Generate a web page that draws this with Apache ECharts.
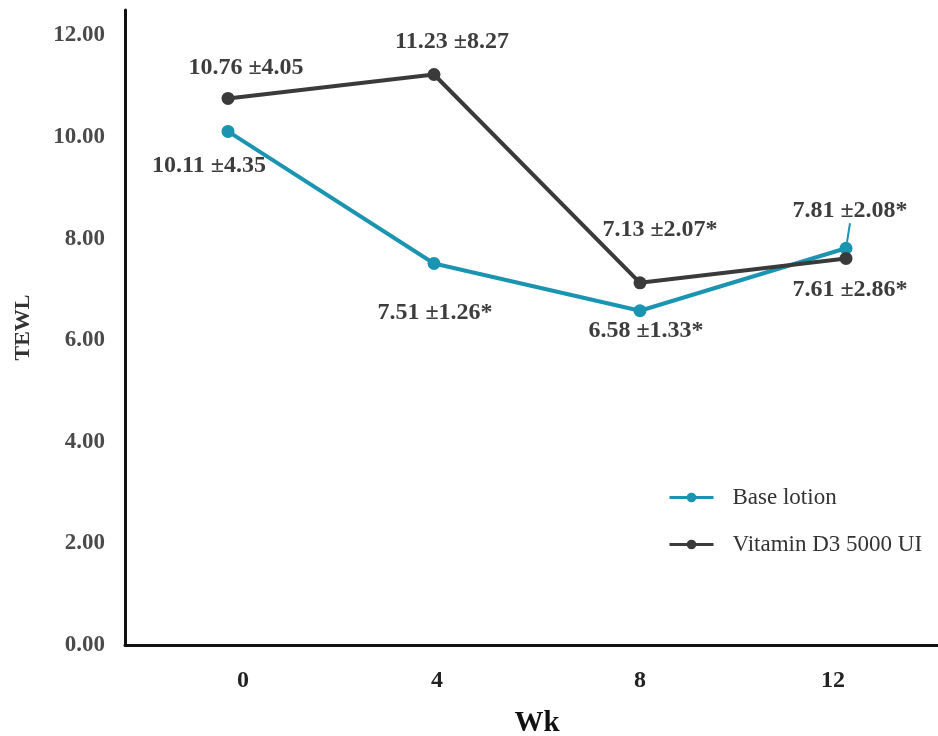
<!DOCTYPE html>
<html>
<head>
<meta charset="utf-8">
<script src="https://cdn.jsdelivr.net/npm/echarts@6/dist/echarts.min.js"></script>
<style>
  html, body { margin: 0; padding: 0; background: #fff; }
  #box { width: 938px; height: 736px; }
</style>
</head>
<body>
<div id="box"></div>
<script>
// data
const weeks = ['0', '4', '8', '12']
const baseLotion = [10.11, 7.51, 6.58, 7.81]
const baseSd = ['4.35', '1.26*', '1.33*', '2.08*']
const vitaminD3 = [10.76, 11.23, 7.13, 7.61]
const vitaminSd = ['4.05', '8.27', '2.07*', '2.86*']

// where each value label sits relative to its point
const baseLabelOffset = [[-19, 34], [1, 49], [6, 20], [4, -37]]
const vitaminLabelOffset = [[18, -31], [18, -33], [20, -53], [4, 31]]

const FONT = 'Liberation Serif'
const TEAL = '#1a94b0'
const DARK = '#3a3a3a'

function points (values, sd, leader) {
  return values.map((v, i) => {
    const item = {
      value: v,
      label: { formatter: v.toFixed(2) + ' \u00b1' + sd[i] }
    }
    if (leader === i) {
      // short guide line from the point up to its label
      item.label.padding = [0, 0, 8, 0]
      item.labelLine = { show: true }
    }
    return item
  })
}

function lineSeries (name, color, values, sd, offsets, leader) {
  return {
    name: name,
    type: 'line',
    data: points(values, sd, leader),
    symbol: 'circle',
    symbolSize: 13,
    lineStyle: { color: color, width: 4 },
    itemStyle: { color: color },
    label: {
      show: true,
      position: 'inside',
      fontFamily: FONT,
      fontWeight: 'bold',
      fontSize: 24,
      color: '#3d3d3d'
    },
    labelLine: { show: false, lineStyle: { color: color, width: 2 } },
    labelLayout: params => ({
      dx: offsets[params.dataIndex][0],
      dy: offsets[params.dataIndex][1]
    }),
    emphasis: { disabled: true }
  }
}

const box = document.getElementById('box')
const chart = echarts.init(box, null, { renderer: 'canvas' })

const options = {
  animation: false,
  backgroundColor: '#fff',
  grid: {
    left: 125,
    right: -11,
    top: 10,
    bottom: 91,
    outerBoundsMode: 'none'
  },
  legend: {
    orient: 'vertical',
    left: 663,
    top: 481,
    itemWidth: 44,
    itemHeight: 12,
    itemGap: 24,
    lineStyle: { width: 3 },
    textStyle: {
      fontFamily: FONT,
      fontSize: 23,
      color: '#333',
      padding: [0, 0, 0, 14]
    },
    data: ['Base lotion', 'Vitamin D3 5000 UI']
  },
  xAxis: {
    type: 'category',
    data: weeks,
    boundaryGap: true,
    name: 'Wk',
    nameLocation: 'middle',
    nameGap: 64,
    nameTextStyle: {
      fontFamily: FONT,
      fontWeight: 'bold',
      fontSize: 29,
      color: '#111'
    },
    axisLine: { lineStyle: { color: '#111', width: 3 } },
    axisTick: { show: false },
    axisLabel: {
      margin: 24,
      fontFamily: FONT,
      fontWeight: 'bold',
      fontSize: 24,
      color: '#222',
      formatter: (v, i) => '{l' + i + '|' + v + '}',
      rich: {
        l0: { padding: [0, 0, 0, 30] },
        l1: { padding: [0, 0, 0, 6] },
        l2: { padding: [0, 0, 0, 0] },
        l3: { padding: [0, 26, 0, 0] }
      }
    }
  },
  yAxis: {
    type: 'value',
    min: 0,
    max: 12.5,
    interval: 2,
    name: 'TEWL',
    nameLocation: 'middle',
    nameGap: 91,
    nameTextStyle: {
      fontFamily: FONT,
      fontWeight: 'bold',
      fontSize: 22,
      color: '#333'
    },
    axisLine: { show: true, lineStyle: { color: '#111', width: 3 } },
    axisTick: { show: false },
    splitLine: { show: false },
    axisLabel: {
      margin: 20,
      fontFamily: FONT,
      fontWeight: 'bold',
      fontSize: 23,
      color: '#4a4a4a',
      formatter: v => (v % 2 === 0 ? v.toFixed(2) : '')
    }
  },
  series: [
    lineSeries('Base lotion', TEAL, baseLotion, baseSd, baseLabelOffset, 3),
    lineSeries('Vitamin D3 5000 UI', DARK, vitaminD3, vitaminSd, vitaminLabelOffset)
  ]
}

chart.setOption(options)
</script>
</body>
</html>
